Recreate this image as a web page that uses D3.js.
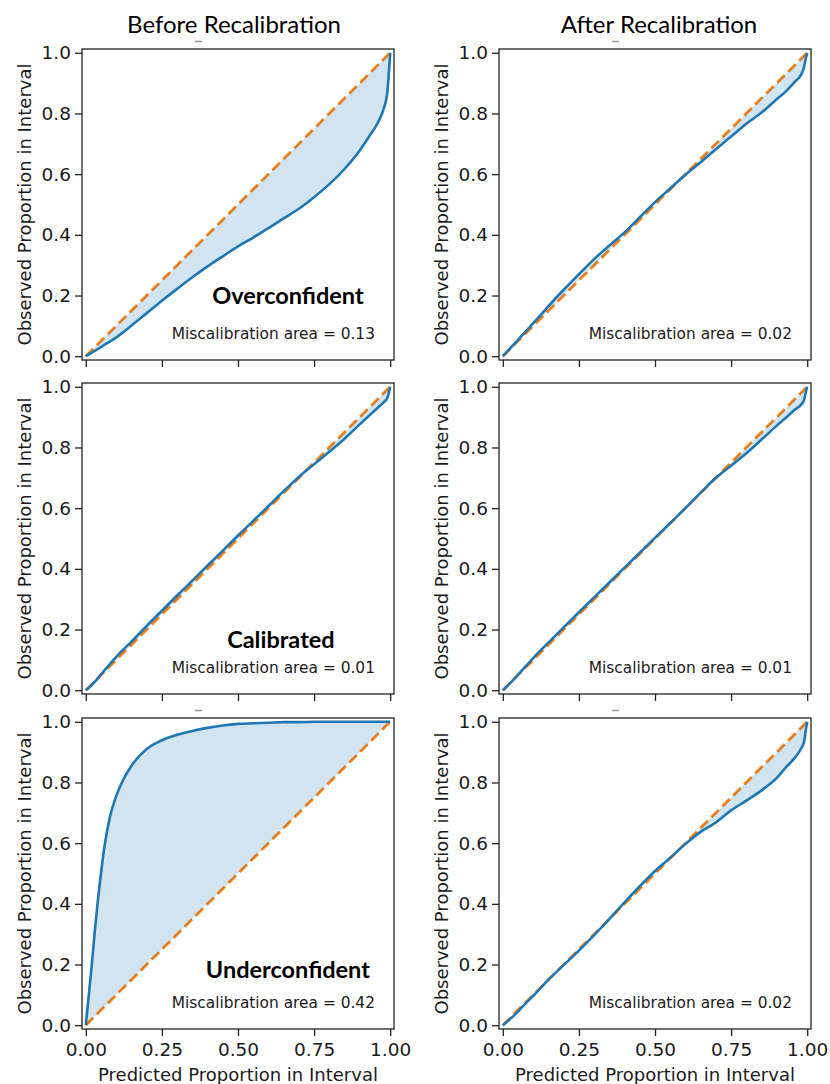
<!DOCTYPE html>
<html>
<head>
<meta charset="utf-8">
<script src="https://cdn.jsdelivr.net/npm/d3@7"></script>
<style>
  body { margin: 0; background: #fff; }
  svg { display: block; }
</style>
</head>
<body>
<div id="chart"></div>
<script>
// predicted proportion grid shared by all panels
const predicted = [0, 0.01, 0.02, 0.03, 0.04, 0.05, 0.06, 0.08, 0.10, 0.12, 0.15, 0.20, 0.25, 0.30, 0.35, 0.40,
  0.45, 0.50, 0.55, 0.60, 0.65, 0.70, 0.75, 0.80, 0.85, 0.90, 0.93, 0.96, 0.98, 0.99, 0.995, 1.0];

// observed proportions, before recalibration
const overBefore = [0, 0.006, 0.012, 0.018, 0.024, 0.030, 0.037, 0.049, 0.062, 0.077, 0.101, 0.142, 0.183, 0.222, 0.260, 0.296,
  0.329, 0.362, 0.391, 0.422, 0.454, 0.486, 0.524, 0.567, 0.617, 0.678, 0.723, 0.771, 0.820, 0.865, 0.925, 1.0];
const calBefore = [0, 0.008, 0.018, 0.028, 0.040, 0.052, 0.064, 0.087, 0.110, 0.131, 0.160, 0.212, 0.262, 0.312, 0.361, 0.411,
  0.460, 0.510, 0.558, 0.607, 0.656, 0.703, 0.745, 0.786, 0.829, 0.876, 0.904, 0.932, 0.950, 0.962, 0.978, 1.0];
const underBefore = [0, 0.100, 0.203, 0.315, 0.415, 0.502, 0.580, 0.690, 0.755, 0.803, 0.855, 0.910, 0.939, 0.957, 0.970, 0.980,
  0.988, 0.993, 0.995, 0.997, 0.999, 0.999, 1.0, 1.0, 1.0, 1.0, 1.0, 1.0, 1.0, 1.0, 1.0, 1.0];

// observed proportions, after recalibration
const overAfter = [0, 0.010, 0.021, 0.032, 0.043, 0.054, 0.065, 0.087, 0.109, 0.131, 0.165, 0.219, 0.270, 0.320, 0.365, 0.408,
  0.458, 0.508, 0.553, 0.598, 0.639, 0.682, 0.724, 0.766, 0.803, 0.847, 0.873, 0.905, 0.928, 0.955, 0.980, 1.0];
const calAfter = [0, 0.009, 0.019, 0.029, 0.040, 0.051, 0.062, 0.084, 0.106, 0.127, 0.157, 0.207, 0.257, 0.306, 0.355, 0.404,
  0.453, 0.502, 0.551, 0.600, 0.651, 0.700, 0.740, 0.781, 0.826, 0.872, 0.898, 0.925, 0.941, 0.958, 0.980, 1.0];
const underAfter = [0, 0.008, 0.017, 0.026, 0.035, 0.045, 0.056, 0.077, 0.097, 0.118, 0.150, 0.198, 0.246, 0.297, 0.350, 0.405,
  0.458, 0.508, 0.552, 0.597, 0.637, 0.668, 0.708, 0.740, 0.774, 0.815, 0.850, 0.882, 0.912, 0.935, 0.970, 1.0];

const columnTitles = ["Before Recalibration", "After Recalibration"];
const rowLabels = ["Overconfident", "Calibrated", "Underconfident"];
const areasBefore = ["0.13", "0.01", "0.42"];
const areasAfter = ["0.02", "0.01", "0.02"];
const xTicks = [0, 0.25, 0.5, 0.75, 1.0];
const yTicks = [0, 0.2, 0.4, 0.6, 0.8, 1.0];

// label anchor points (data coords) for the bold row labels
const labelX = [0.664, 0.641, 0.664];
const labelY = [0.173, 0.140, 0.157];

let panels = [
  {row: 0, col: 0, obs: overBefore, area: areasBefore[0], label: rowLabels[0]},
  {row: 1, col: 0, obs: calBefore, area: areasBefore[1], label: rowLabels[1]},
  {row: 2, col: 0, obs: underBefore, area: areasBefore[2], label: rowLabels[2]},
  {row: 0, col: 1, obs: overAfter, area: areasAfter[0], label: null},
  {row: 1, col: 1, obs: calAfter, area: areasAfter[1], label: null},
  {row: 2, col: 1, obs: underAfter, area: areasAfter[2], label: null}
];

// layout
let frameLeft = [82, 499];
let frameTop = [49, 383, 718];
let frameW = 312, frameH = 311;
let pad = 0.0125;

let tickFont = "'DejaVu Sans', sans-serif";
let titleFont = "Lato, 'Open Sans', sans-serif";

let svg = d3.select("#chart").append("svg")
  .attr("width", 830)
  .attr("height", 1084);

svg.append("rect").attr("width", 830).attr("height", 1084).attr("fill", "#fff");

let x = d3.scaleLinear().domain([-pad, 1 + pad]).range([0, frameW]);
let y = d3.scaleLinear().domain([-pad, 1 + pad]).range([frameH, 0]);

let line = d3.line()
  .x(d => x(d[0]))
  .y(d => y(d[1]))
  .curve(d3.curveMonotoneX);

let area = d3.area()
  .x(d => x(d[0]))
  .y0(d => y(d[0]))
  .y1(d => y(d[1]))
  .curve(d3.curveMonotoneX);

panels.forEach(p => {
  let g = svg.append("g")
    .attr("transform", "translate(" + frameLeft[p.col] + "," + frameTop[p.row] + ")");

  let pts = predicted.map((v, i) => [v, p.obs[i]]);

  // ideal diagonal
  g.append("path")
    .datum([[0, 0], [1, 1]])
    .attr("d", d3.line().x(d => x(d[0])).y(d => y(d[1])))
    .attr("fill", "none")
    .attr("stroke", "#ff7f0e")
    .attr("stroke-width", 2.8)
    .attr("stroke-dasharray", "10.5,5");

  // calibration curve
  g.append("path")
    .datum(pts)
    .attr("d", line)
    .attr("fill", "none")
    .attr("stroke", "#1f77b4")
    .attr("stroke-width", 2.6)
    .attr("stroke-linejoin", "round");

  // miscalibration area
  g.append("path")
    .datum(pts)
    .attr("d", area)
    .attr("fill", "#1f77b4")
    .attr("fill-opacity", 0.2)
    .attr("stroke", "none");

  // frame
  g.append("rect")
    .attr("width", frameW)
    .attr("height", frameH)
    .attr("fill", "none")
    .attr("stroke", "#222")
    .attr("stroke-width", 1.3);

  // axes
  let yAxis = d3.axisLeft(y).tickValues(yTicks).tickFormat(d3.format(".1f")).tickSize(7).tickPadding(4);
  let ya = g.append("g").call(yAxis);
  ya.select(".domain").remove();

  let xAxis = d3.axisBottom(x).tickValues(xTicks).tickSize(7).tickPadding(7)
    .tickFormat(p.row === 2 ? d3.format(".2f") : "");
  let xa = g.append("g").attr("transform", "translate(0," + frameH + ")").call(xAxis);
  xa.select(".domain").remove();

  g.selectAll(".tick line").attr("stroke", "#222").attr("stroke-width", 1.3);
  g.selectAll(".tick text")
    .attr("fill", "#1a1a1a")
    .style("font-family", tickFont)
    .style("font-size", "18.5px");

  // y label
  g.append("text")
    .attr("transform", "translate(" + (30.5 - 82) + "," + (frameH / 2) + ") rotate(-90)")
    .attr("text-anchor", "middle")
    .attr("fill", "#1a1a1a")
    .style("font-family", tickFont)
    .style("font-size", "18px")
    .text("Observed Proportion in Interval");

  // x label on bottom row
  if (p.row === 2) {
    g.append("text")
      .attr("x", frameW / 2)
      .attr("y", 1081 - frameTop[2])
      .attr("text-anchor", "middle")
      .attr("fill", "#1a1a1a")
      .style("font-family", tickFont)
      .style("font-size", "18px")
      .text("Predicted Proportion in Interval");
  }

  // miscalibration text
  g.append("text")
    .attr("x", x(0.95))
    .attr("y", y(0.058))
    .attr("text-anchor", "end")
    .attr("fill", "#1a1a1a")
    .style("font-family", tickFont)
    .style("font-size", "15.4px")
    .text("Miscalibration area = " + p.area);

  // bold row label
  if (p.label) {
    g.append("text")
      .attr("x", x(labelX[p.row]))
      .attr("y", y(labelY[p.row]))
      .attr("text-anchor", "middle")
      .attr("fill", "#000")
      .style("font-family", titleFont)
      .style("font-weight", "bold")
      .style("font-size", "23.5px")
      .text(p.label);
  }

  // little leftover marks above rows 1 and 3
  if (p.row !== 1) {
    g.append("line")
      .attr("x1", frameW / 2 - 43).attr("x2", frameW / 2 - 36)
      .attr("y1", -7.5).attr("y2", -7.5)
      .attr("stroke", "#999")
      .attr("stroke-width", 1.5);
  }
});

// column titles
svg.selectAll(".coltitle")
  .data(columnTitles)
  .join("text")
  .attr("class", "coltitle")
  .attr("x", (d, i) => [234, 659][i])
  .attr("y", 33)
  .attr("text-anchor", "middle")
  .attr("fill", "#000")
  .style("font-family", titleFont)
  .style("font-size", "24px")
  .text(d => d);
</script>
</body>
</html>
